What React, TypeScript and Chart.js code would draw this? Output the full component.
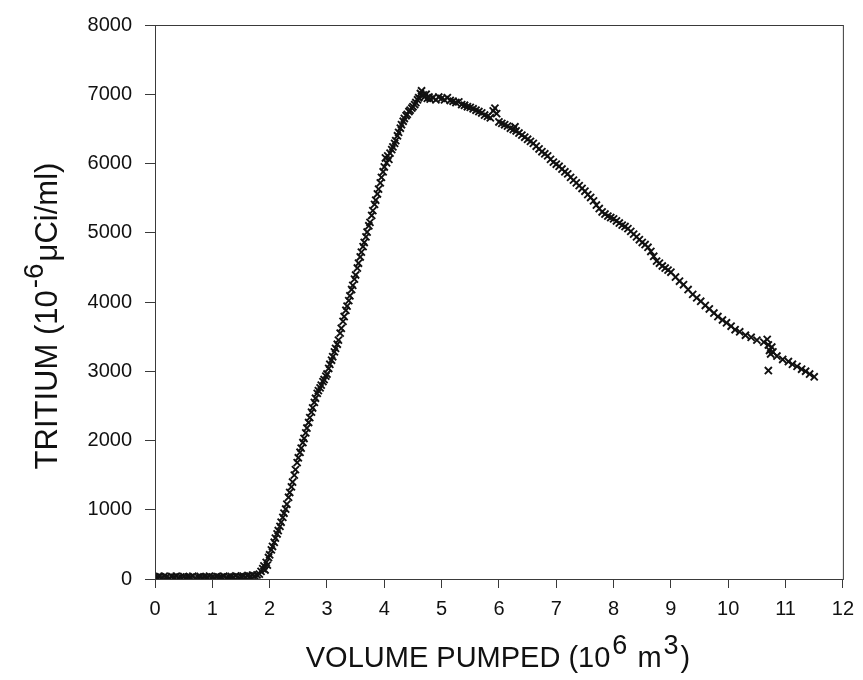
import React, { useEffect, useRef } from "react";
import { Chart, registerables } from "chart.js";

Chart.register(...registerables);

// Volume pumped (10^6 m^3)
const volume: number[] = [
  0.00, 0.04, 0.08, 0.12, 0.16, 0.20, 0.25, 0.29, 0.33, 0.37, 0.41, 0.45, 0.50, 0.54, 0.58, 0.62, 0.66, 0.70, 0.75, 0.79,
  0.83, 0.87, 0.91, 0.95, 1.00, 1.04, 1.08, 1.12, 1.16, 1.20, 1.25, 1.29, 1.33, 1.37, 1.41, 1.45, 1.50, 1.54, 1.58, 1.62,
  1.66, 1.70, 1.74, 1.78, 1.82,
  1.85, 1.88, 1.90, 1.92, 1.94, 1.96, 1.98, 2.00, 2.03, 2.05, 2.08, 2.10, 2.13, 2.15, 2.18, 2.20, 2.23, 2.25, 2.28, 2.30,
  2.33, 2.35, 2.38, 2.40, 2.43, 2.45, 2.48, 2.50, 2.53, 2.55, 2.58, 2.60, 2.63, 2.65, 2.68, 2.70, 2.73, 2.75, 2.78, 2.80,
  2.83, 2.85, 2.88, 2.90, 2.93, 2.95, 2.98, 3.00, 3.03, 3.05, 3.08, 3.10, 3.13, 3.15, 3.18, 3.20, 3.23, 3.25, 3.28, 3.30,
  3.33, 3.35, 3.38, 3.40, 3.43, 3.45, 3.48, 3.50, 3.53, 3.55, 3.58, 3.60, 3.63, 3.65, 3.68, 3.70, 3.73, 3.75, 3.78, 3.80,
  3.83, 3.85, 3.88, 3.90, 3.93, 3.95, 3.98, 4.00, 4.02, 4.04, 4.06, 4.08, 4.10, 4.13, 4.15, 4.18, 4.20, 4.23, 4.25, 4.28,
  4.30, 4.33, 4.35, 4.38, 4.40, 4.43, 4.45, 4.48, 4.50, 4.53, 4.55, 4.58, 4.60, 4.63, 4.65, 4.68, 4.70, 4.73, 4.75, 4.78,
  4.80, 4.85, 4.90, 4.95, 5.00, 5.05, 5.10, 5.15, 5.20, 5.25, 5.30, 5.35, 5.40, 5.45, 5.50, 5.55, 5.60, 5.65, 5.70, 5.75,
  5.80, 5.85, 5.90, 5.93, 5.96, 6.00, 6.05, 6.10, 6.15, 6.20, 6.25, 6.28, 6.30, 6.35, 6.40, 6.45, 6.50, 6.55, 6.60, 6.65,
  6.70, 6.75, 6.80, 6.85, 6.90, 6.95, 7.00, 7.05, 7.10, 7.15, 7.20, 7.25, 7.30, 7.35, 7.40, 7.45, 7.50, 7.55, 7.60, 7.65,
  7.70, 7.75, 7.80, 7.85, 7.90, 7.95, 8.00, 8.05, 8.10, 8.15, 8.20, 8.25, 8.30, 8.35, 8.40, 8.45, 8.50, 8.55, 8.60, 8.65,
  8.70, 8.75, 8.80, 8.85, 8.90, 8.95, 9.00, 9.08, 9.15, 9.22, 9.30, 9.38, 9.45, 9.52, 9.60, 9.67, 9.75, 9.82, 9.90, 9.97,
  10.05, 10.12, 10.20, 10.30, 10.40, 10.50, 10.62, 10.68, 10.70, 10.72, 10.74, 10.70, 10.76, 10.78, 10.85, 10.95, 11.05, 11.12, 11.20, 11.28,
  11.35, 11.42, 11.50,
];

// Tritium (10^-6 uCi/ml)
const tritium: number[] = [
  30, 25, 35, 20, 40, 30, 15, 35, 25, 40, 20, 30, 35, 20, 30, 25, 40, 15, 30, 35,
  20, 30, 25, 40, 30, 20, 35, 25, 30, 40, 20, 30, 35, 25, 45, 30, 35, 40, 30, 50,
  40, 55, 45, 60, 70,
  110, 150, 190, 130, 240, 200, 310, 350, 420, 470, 530, 590, 650, 700, 760, 820, 890, 950, 1010, 1080,
  1180, 1250, 1330, 1400, 1500, 1580, 1680, 1750, 1830, 1890, 1970, 2030, 2110, 2180, 2260, 2330, 2410, 2470, 2550, 2610,
  2680, 2720, 2760, 2800, 2850, 2880, 2930, 2960, 3040, 3100, 3160, 3210, 3280, 3330, 3390, 3450, 3550, 3620, 3720, 3790,
  3880, 3940, 4020, 4090, 4180, 4240, 4330, 4390, 4490, 4560, 4650, 4720, 4800, 4860, 4940, 5010, 5100, 5150, 5250, 5320,
  5410, 5470, 5560, 5630, 5720, 5800, 5880, 5950, 6080, 6010, 6110, 6060, 6150, 6200, 6240, 6290, 6330, 6400, 6450, 6510,
  6560, 6610, 6650, 6690, 6710, 6750, 6770, 6800, 6820, 6850, 6880, 6920, 6950, 7010, 7050, 6990, 6960, 7000, 6940, 6960,
  6930, 6950, 6920, 6960, 6940, 6920, 6950, 6910, 6900, 6880, 6890, 6850, 6840, 6820, 6810, 6790, 6770, 6750, 6730, 6700,
  6680, 6660, 6760, 6800, 6720, 6600, 6580, 6560, 6540, 6510, 6490, 6530, 6470, 6440, 6410, 6380, 6350, 6320, 6290, 6250,
  6210, 6170, 6140, 6110, 6060, 6020, 5990, 5960, 5920, 5880, 5850, 5800, 5760, 5720, 5680, 5640, 5600, 5550, 5510, 5460,
  5400, 5350, 5300, 5270, 5240, 5220, 5200, 5170, 5140, 5110, 5090, 5060, 5020, 4980, 4940, 4900, 4860, 4830, 4790, 4730,
  4660, 4590, 4560, 4520, 4490, 4460, 4430, 4360, 4300, 4250, 4180, 4110, 4060, 4010, 3950, 3900, 3840, 3790, 3740, 3700,
  3650, 3600, 3570, 3520, 3490, 3450, 3420, 3460, 3380, 3300, 3250, 3010, 3350, 3280, 3220, 3170, 3140, 3100, 3070, 3030,
  3000, 2960, 2920,
];

const xTickValues: number[] = [0, 1, 2, 3, 4, 5, 6, 7, 8, 9, 10, 11, 12];
const yTickValues: number[] = [0, 1000, 2000, 3000, 4000, 5000, 6000, 7000, 8000];

type Piece = { t: string; sup?: boolean };
const xTitle: Piece[] = [{ t: "VOLUME PUMPED (10" }, { t: "6", sup: true }, { t: " m" }, { t: "3", sup: true }, { t: ")" }];
const yTitle: Piece[] = [{ t: "TRITIUM (10" }, { t: "-6", sup: true }, { t: "\u03BCCi/ml)" }];

const FONT = "'Liberation Sans', Arial, Helvetica, sans-serif";

function drawRich(ctx: CanvasRenderingContext2D, pieces: Piece[], size: number, supSize: number) {
  const gap = 2;
  const widths = pieces.map((p) => {
    ctx.font = `${p.sup ? supSize : size}px ${FONT}`;
    return ctx.measureText(p.t).width + (p.sup ? gap * 2 : 0);
  });
  const total = widths.reduce((a, b) => a + b, 0);
  let x = -total / 2;
  pieces.forEach((p, i) => {
    ctx.font = `${p.sup ? supSize : size}px ${FONT}`;
    ctx.fillText(p.t, x + (p.sup ? gap : 0), p.sup ? -size * 0.45 : 0);
    x += widths[i];
  });
}

const framePlugin = {
  id: "frameAndTitles",
  afterDraw(chart: any) {
    const { ctx, chartArea } = chart;
    const { left, right, top, bottom } = chartArea;
    ctx.save();
    ctx.strokeStyle = "#3a3a3a";
    ctx.lineWidth = 1;
    ctx.strokeRect(left + 0.5, top + 0.5, right - left, bottom - top);

    ctx.fillStyle = "#111";
    ctx.textAlign = "left";
    ctx.textBaseline = "alphabetic";
    // x title
    ctx.save();
    ctx.translate(498, 667);
    drawRich(ctx, xTitle, 29, 27);
    ctx.restore();
    // y title
    ctx.save();
    ctx.translate(57, 316);
    ctx.rotate(-Math.PI / 2);
    drawRich(ctx, yTitle, 31, 28);
    ctx.restore();
    ctx.restore();
  },
};

export default function App() {
  const canvasRef = useRef<HTMLCanvasElement | null>(null);

  useEffect(() => {
    document.body.style.margin = "0";
    const canvas = canvasRef.current;
    if (!canvas) return;
    const points = volume.map((v, i) => ({ x: v, y: tritium[i] }));
    const chart = new Chart(canvas, {
      type: "scatter",
      data: {
        datasets: [
          {
            label: "Tritium",
            data: points,
            pointStyle: "crossRot",
            pointRadius: 5,
            pointBorderWidth: 1.9,
            borderColor: "#111",
            backgroundColor: "#111",
          },
        ],
      },
      options: {
        animation: false,
        responsive: true,
        maintainAspectRatio: false,
        layout: { padding: { left: 0, right: 16, top: 19, bottom: 0 } },
        plugins: { legend: { display: false }, tooltip: { enabled: false }, title: { display: false } },
        scales: {
          x: {
            type: "linear",
            min: 0,
            max: 12,
            afterBuildTicks: (scale: any) => {
              scale.ticks = xTickValues.map((v) => ({ value: v }));
            },
            afterFit: (scale: any) => {
              scale.height = 101;
            },
            border: { display: true, color: "#3a3a3a", width: 1 },
            grid: { display: true, drawOnChartArea: false, drawTicks: true, tickLength: 9, color: "#3a3a3a" },
            ticks: {
              color: "#111",
              padding: 9,
              maxRotation: 0,
              autoSkip: false,
              font: { family: FONT, size: 20 },
              callback: (v: any) => String(v),
            },
          },
          y: {
            type: "linear",
            min: 0,
            max: 8000,
            afterBuildTicks: (scale: any) => {
              scale.ticks = yTickValues.map((v) => ({ value: v }));
            },
            afterFit: (scale: any) => {
              scale.width = 155;
            },
            border: { display: true, color: "#3a3a3a", width: 1 },
            grid: { display: true, drawOnChartArea: false, drawTicks: true, tickLength: 10, color: "#3a3a3a" },
            ticks: {
              color: "#111",
              padding: 13,
              autoSkip: false,
              font: { family: FONT, size: 20 },
              callback: (v: any) => String(v),
            },
          },
        },
      },
      plugins: [framePlugin],
    });
    return () => chart.destroy();
  }, []);

  return (
    <div style={{ position: "relative", width: 863, height: 680 }}>
      <canvas ref={canvasRef} />
    </div>
  );
}
